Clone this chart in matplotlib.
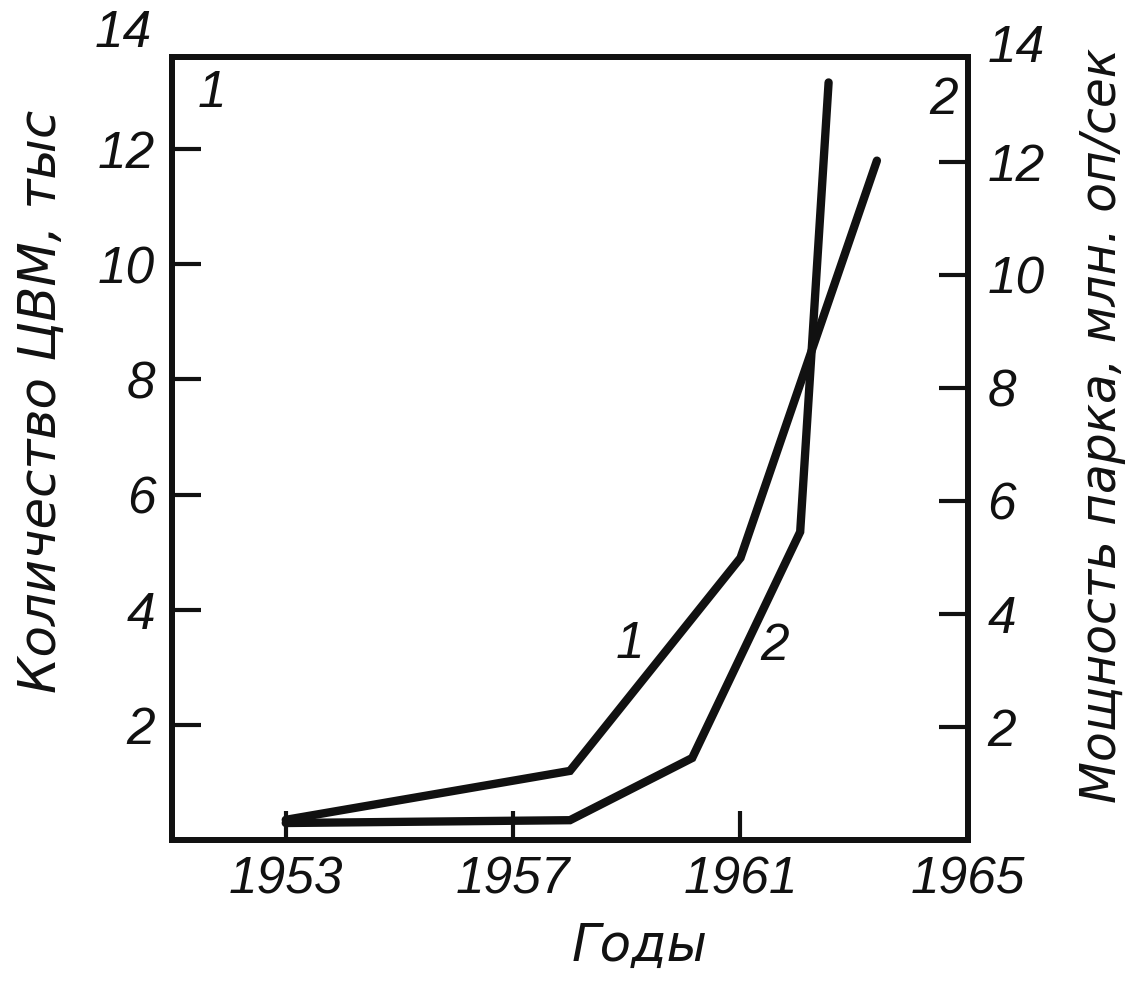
import matplotlib
matplotlib.use("Agg")
import matplotlib.pyplot as plt
from matplotlib.transforms import blended_transform_factory

# --- data -------------------------------------------------------------------
# curve 1: number of computers, thousands (left axis)
years_1 = [1953, 1958, 1961, 1963.4]
count_1 = [0.35, 1.2, 4.9, 11.8]

# curve 2: fleet capacity, million ops/sec (right axis)
years_2 = [1953, 1958, 1960.15, 1962.05, 1962.55]
power_2 = [0.3, 0.35, 1.45, 5.45, 13.4]

x_ticks = [1953, 1957, 1961, 1965]
y_ticks = [2, 4, 6, 8, 10, 12]
y_top_label = 14

left_label = "Количество ЦВМ, тыс"
right_label = "Мощность парка, млн. оп/сек"
x_label = "Годы"

# --- style -------------------------------------------------------------------
INK = "#111111"
digits = dict(family=["Liberation Sans", "DejaVu Sans"], style="italic", size=37, color=INK)
words = dict(family=["DejaVu Sans"], style="italic", size=37, color=INK)

fig = plt.figure(figsize=(11.32, 9.83), dpi=100)
ax = fig.add_axes([0.152, 0.1455, 0.703, 0.7965])
ax2 = ax.twinx()

for a in (ax, ax2):
    for sp in a.spines.values():
        sp.set_linewidth(4.3)
        sp.set_color(INK)

ax.plot(years_1, count_1, color=INK, lw=6, solid_capstyle="round", solid_joinstyle="miter", zorder=3)
ax2.plot(years_2, power_2, color=INK, lw=6, solid_capstyle="round", solid_joinstyle="miter", zorder=3)

ax.set_xlim(1951, 1965)
ax.set_ylim(0, 13.6)
ax2.set_ylim(0, 13.85)

ax.set_xticks(x_ticks)
ax.set_xticklabels([str(t) for t in x_ticks], fontdict=digits)
ax.set_yticks(y_ticks)
ax.set_yticklabels([str(t) for t in y_ticks], fontdict=digits)
ax2.set_yticks(y_ticks)
ax2.set_yticklabels([str(t) for t in y_ticks], fontdict=digits)

ax.tick_params(axis="x", direction="in", length=21, width=3, pad=11, color=INK)
ax.tick_params(axis="y", direction="in", length=21, width=3, pad=12, color=INK)
ax2.tick_params(axis="y", direction="in", length=21, width=3, pad=14, color=INK)

# "14" sits above the frame on both sides
tl = blended_transform_factory(ax.transAxes, ax.transData)
ax.text(-0.025, y_top_label, str(y_top_label), transform=tl, ha="right", va="center",
        clip_on=False, **digits)
tr = blended_transform_factory(ax2.transAxes, ax2.transData)
ax2.text(1.025, y_top_label, str(y_top_label), transform=tr, ha="left", va="center",
         clip_on=False, **digits)

# axis titles
ax.set_ylabel(left_label, fontdict=words)
ax.yaxis.set_label_coords(-0.132, 0.56)
ax2.set_ylabel(right_label, fontdict=dict(words, size=35))
ax2.yaxis.set_label_coords(1.138, 0.53)
ax.set_xlabel(x_label, fontdict=words)
ax.xaxis.set_label_coords(0.588, -0.105)

# curve numbers
ax.text(0.05, 0.954, "1", transform=ax.transAxes, ha="center", va="center", **digits)
ax.text(0.969, 0.945, "2", transform=ax.transAxes, ha="center", va="center", **digits)
ax.text(0.575, 0.25, "1", transform=ax.transAxes, ha="center", va="center", **digits)
ax.text(0.757, 0.247, "2", transform=ax.transAxes, ha="center", va="center", **digits)

fig.savefig("out.png", dpi=100, facecolor="white")
